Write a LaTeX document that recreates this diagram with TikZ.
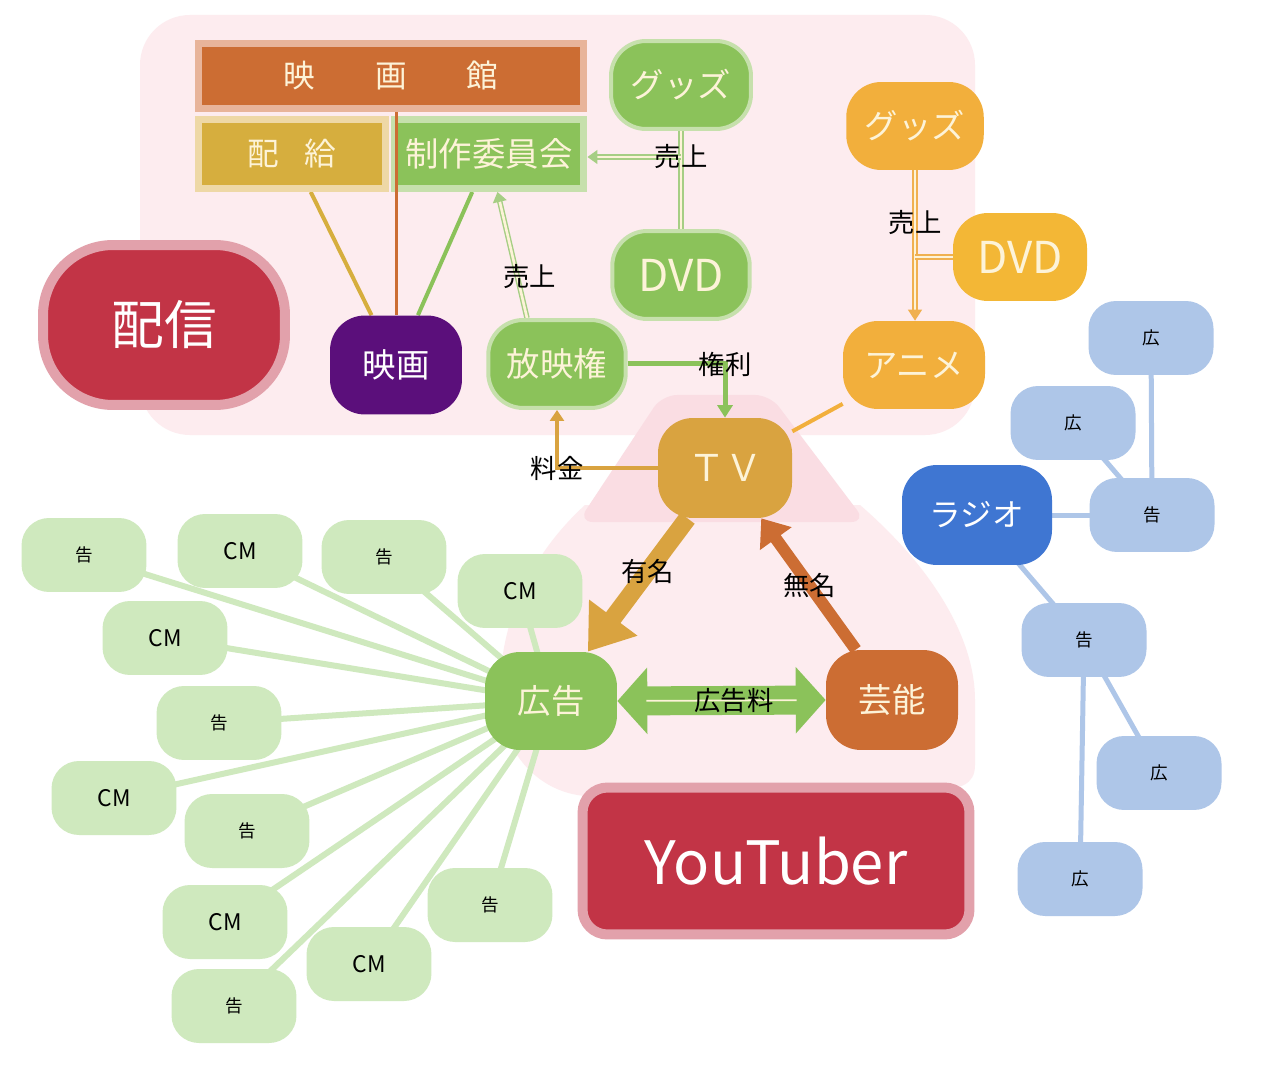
\documentclass[tikz,border=0pt]{standalone}
\usepackage{fontspec}
\setmainfont{Noto Sans CJK JP}
\usetikzlibrary{arrows.meta,backgrounds,calc}

\definecolor{pinkbg}{HTML}{FDECEF}
\definecolor{pinktrap}{HTML}{FADDE3}
\definecolor{cgreen}{HTML}{8BC25A}
\definecolor{cgreenlt}{HTML}{C6E0AC}
\definecolor{cgreenln}{HTML}{A6CE84}
\definecolor{cleaf}{HTML}{CFE9BE}
\definecolor{corange}{HTML}{F2AF3C}
\definecolor{corangeln}{HTML}{F0B050}
\definecolor{cgold}{HTML}{D9A340}
\definecolor{cbrown}{HTML}{CC6D33}
\definecolor{cbrownlt}{HTML}{E8B49A}
\definecolor{cmustard}{HTML}{D6AE3E}
\definecolor{cmustardlt}{HTML}{EED8A6}
\definecolor{cred}{HTML}{C23446}
\definecolor{credlt}{HTML}{E2A1AB}
\definecolor{cpurple}{HTML}{5B0F7B}
\definecolor{cblue}{HTML}{3F76D2}
\definecolor{cbluelt}{HTML}{AEC6E8}
\definecolor{cream}{HTML}{FDF3D8}

\begin{document}
\begin{tikzpicture}[x=0.02cm, y=-0.02cm,
    box/.style={rectangle, rounded corners=0.7cm, minimum width=2.75cm, minimum height=1.76cm,
      inner sep=0pt, text=cream, font=\fontsize{19pt}{22pt}\selectfont},
    greenbox/.style={box, fill=cgreen, draw=cgreenlt, line width=0.08cm},
    orangebox/.style={box, fill=corange},
    bigbox/.style={rectangle, inner sep=0pt, text=cream, line width=0.14cm,
      font=\fontsize{18pt}{22pt}\selectfont},
    leaf/.style={rectangle, rounded corners=0.55cm, fill=cleaf, minimum width=2.5cm,
      minimum height=1.48cm, inner sep=0pt},
    bleaf/.style={leaf, fill=cbluelt},
    kanji/.style={font=\fontsize{10pt}{12pt}\selectfont},
    cmtext/.style={font=\fontsize{13pt}{15pt}\selectfont},
    lbl/.style={text=black, inner sep=0pt, font=\fontsize{15pt}{18pt}\selectfont},
    twin/.style={draw=#1, double=cream, double distance=1.5pt, line width=0.8pt},
  ]
  \useasboundingbox (0,0) rectangle (1280,1077);

  % movie side
  \node[bigbox, fill=cbrown, draw=cbrownlt, minimum width=7.7cm, minimum height=1.3cm] (eikan) at (391,76) {映\hspace{1.9em}画\hspace{1.9em}館};
  \node[bigbox, fill=cmustard, draw=cmustardlt, minimum width=3.76cm, minimum height=1.38cm] (haikyu) at (292,154) {配\hspace{0.8em}給};
  \node[bigbox, fill=cgreen, draw=cgreenlt, minimum width=3.8cm, minimum height=1.38cm, font=\fontsize{19pt}{22pt}\selectfont] (seisaku) at (489,154) {制作委員会};
  \node[greenbox, minimum width=2.8cm] (guzzuG) at (681,85) {グッズ};
  \node[greenbox, font=\fontsize{25pt}{28pt}\selectfont] (dvdG) at (681,275) {DVD};
  \node[box, fill=cpurple, text=white, minimum width=2.64cm, minimum height=1.98cm] (eiga) at (396,365) {映画};
  \node[greenbox] (houei) at (557,364) {放映権};
  \node[rectangle, rounded corners=1.4cm, fill=cred, draw=credlt, line width=0.2cm, minimum width=4.84cm,
    minimum height=3.2cm, text=white, font=\fontsize{30pt}{34pt}\selectfont] (haishin) at (164,325) {配信};

  % anime side
  \node[orangebox] (guzzuO) at (915,126) {グッズ};
  \node[orangebox, fill=corange!90!yellow, minimum width=2.68cm, font=\fontsize{25pt}{28pt}\selectfont] (dvdO) at (1020,257) {DVD};
  \node[orangebox, minimum width=2.84cm] (anime) at (914,365) {アニメ};

  % tv triangle
  \node[box, fill=cgold, minimum width=2.68cm, minimum height=2cm, font=\fontsize{21pt}{24pt}\selectfont] (tv) at (725,468) {ＴＶ};
  \node[box, fill=cgreen, minimum width=2.64cm, minimum height=1.96cm] (koukoku) at (551,701) {広告};
  \node[box, fill=cbrown, minimum width=2.64cm, minimum height=2cm] (geinou) at (892,700) {芸能};
  \node[rectangle, rounded corners=0.5cm, fill=cred, draw=credlt, line width=0.2cm, minimum width=7.74cm,
    minimum height=2.94cm, text=white, font=\fontsize{34pt}{38pt}\selectfont] (youtuber) at (776,861) {YouTuber};

  % radio
  \node[box, fill=cblue, text=white, minimum width=3cm, minimum height=2cm, font=\fontsize{18pt}{22pt}\selectfont] (radio) at (977,515) {ラジオ};
  \foreach \nm/\px/\py/\tx in {b1/1151/338/広, b2/1073/423/広, b3/1152/515/告, b4/1084/640/告, b5/1159/773/広, b6/1080/879/広}
    \node[bleaf, kanji] (\nm) at (\px,\py) {\tx};

  % ad leaves
  \foreach \nm/\px/\py in {g1/84/555, g3/384/557, g6/219/723, g8/247/831, g11/490/905, g12/234/1006}
    \node[leaf, kanji] (\nm) at (\px,\py) {告};
  \foreach \nm/\px/\py in {g2/240/551, g4/520/591, g5/165/638, g7/114/798, g9/225/922, g10/369/964}
    \node[leaf, cmtext] (\nm) at (\px,\py) {CM};

  \draw[cbrown, line width=0.06cm] (eiga.north) -- (eiga.north |- eikan.south);

  \begin{pgfonlayer}{background}
    \fill[white] (0,0) rectangle (1280,1077);
    \fill[pinkbg, rounded corners=1cm] (140,15) rectangle (975,435);
    \fill[pinkbg] (585,505) -- (860,505) .. controls (935,570) and (975,640) .. (975,700) -- (975,765)
      .. controls (975,785) and (960,790) .. (930,790) -- (610,795)
      .. controls (550,805) and (502,760) .. (500,700) .. controls (498,630) and (525,560) .. (585,505) -- cycle;
    \fill[pinktrap, rounded corners=0.3cm] (662,395) -- (770,395) -- (866,522) -- (578,522) -- cycle;

    % leaves
    \foreach \i in {1,...,12}
      \draw[cleaf, line width=0.12cm] (koukoku.center) -- (g\i.center);
    \foreach \a/\b in {radio/b3, b1/b3, b2/b3, radio/b4, b4/b5, b4/b6}
      \draw[cbluelt, line width=0.1cm] (\a.center) -- (\b.center);

    % movie links
    \draw[cmustard, line width=0.08cm] (haikyu) -- (eiga);
    \draw[cgreen, line width=0.08cm] (seisaku) -- (eiga);
    \coordinate (joinG) at (681,157);
    \draw[twin=cgreenln] (guzzuG) -- (dvdG);
    \draw[twin=cgreenln, -{Triangle[length=0.2cm,width=0.28cm]}] (joinG) -- node[lbl, pos=0] {売上} (joinG -| seisaku.east);
    \draw[twin=cgreenln, -{Triangle[length=0.2cm,width=0.28cm]}] ([xshift=-0.6cm]houei.north)
      -- node[lbl, pos=0.33, xshift=0.25cm] {売上} ([xshift=0.17cm]seisaku.south);
    \draw[cgreen, line width=0.1cm, -{Triangle[length=0.25cm,width=0.3cm]}] (houei.east) -| node[lbl, pos=0.5] {権利} (tv.north);
    \draw[cgold, line width=0.08cm, -{Triangle[length=0.22cm,width=0.28cm]}] (tv.west) -| node[lbl, pos=0.5] {料金} (houei.south);

    % anime links
    \draw[corange, line width=0.08cm] (anime) -- (tv);
    \draw[twin=corangeln, -{Triangle[length=0.22cm,width=0.28cm]}] (guzzuO.south) -- node[lbl, pos=0.35] {売上} (guzzuO.south |- anime.north);
    \draw[twin=corangeln] (dvdO.west) -- (dvdO.west -| guzzuO.south);

    % triangle
    \draw[cgold, line width=0.36cm, -{Triangle[length=0.85cm,width=1.15cm]}] (tv) -- node[lbl, pos=0.4] {有名} (koukoku);
    \draw[cbrown, line width=0.24cm, -{Triangle[length=0.5cm,width=0.75cm]}] (geinou) -- node[lbl, pos=0.49] {無名} (tv);
    \draw[cgreen, line width=0.58cm, {Triangle[length=0.6cm,width=1.3cm]}-{Triangle[length=0.6cm,width=1.3cm]}] (koukoku.east) -- (geinou.west);
    \draw[cream, line width=1pt, shorten <=0.58cm, shorten >=0.58cm] (koukoku.east) -- node[lbl, pos=0.56] {広告料} (geinou.west);
  \end{pgfonlayer}
\end{tikzpicture}
\end{document}
